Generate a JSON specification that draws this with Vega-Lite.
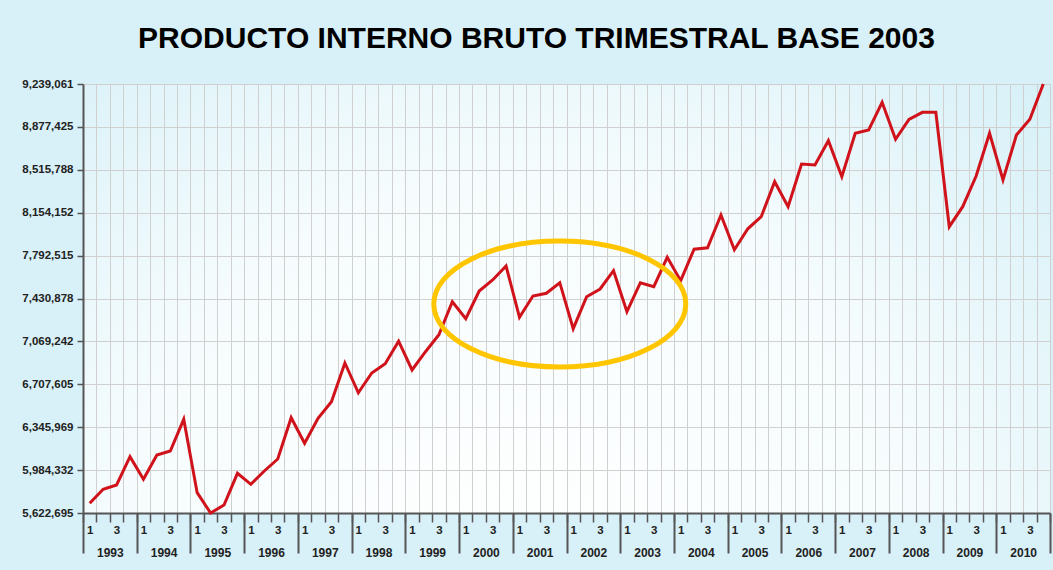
{
  "$schema": "https://vega.github.io/schema/vega-lite/v6.json",
  "width": 967,
  "height": 429,
  "autosize": {"type": "none"},
  "padding": {"left": 83, "top": 84, "right": 3, "bottom": 57},
  "background": "#d8f0f7",
  "view": {
    "stroke": null,
    "fill": {
      "gradient": "radial",
      "x1": 0.45, "y1": 0.8, "r1": 0,
      "x2": 0.45, "y2": 0.8, "r2": 0.85,
      "stops": [
        {"offset": 0, "color": "#ffffff"},
        {"offset": 0.5, "color": "#f6fcfd"},
        {"offset": 1, "color": "#cdedf6"}
      ]
    }
  },
  "title": {
    "text": "PRODUCTO INTERNO BRUTO TRIMESTRAL BASE 2003",
    "font": "Liberation Sans",
    "fontSize": 30,
    "fontWeight": "bold",
    "color": "#000000",
    "anchor": "middle",
    "baseline": "alphabetic",
    "dx": -30,
    "offset": 0
  },
  "config": {
    "axis": {
      "title": null,
      "labelFont": "Liberation Sans",
      "labelFontWeight": "bold",
      "labelColor": "#222222",
      "domainColor": "#555555",
      "domainWidth": 2,
      "tickColor": "#555555",
      "gridColor": "#d0d0d0",
      "gridWidth": 1
    }
  },
  "resolve": {"axis": {"x": "independent"}},
  "layer": [
    {
      "data": {
        "values": [
          {"q": "1993-1", "t": 0, "v": 5704487},
          {"q": "1993-2", "t": 1, "v": 5822503},
          {"q": "1993-3", "t": 2, "v": 5858751},
          {"q": "1993-4", "t": 3, "v": 6097312},
          {"q": "1994-1", "t": 4, "v": 5906800},
          {"q": "1994-2", "t": 5, "v": 6111642},
          {"q": "1994-3", "t": 6, "v": 6145361},
          {"q": "1994-4", "t": 7, "v": 6412582},
          {"q": "1995-1", "t": 8, "v": 5793842},
          {"q": "1995-2", "t": 9, "v": 5622695},
          {"q": "1995-3", "t": 10, "v": 5690157},
          {"q": "1995-4", "t": 11, "v": 5957379},
          {"q": "1996-1", "t": 12, "v": 5864652},
          {"q": "1996-2", "t": 13, "v": 5976767},
          {"q": "1996-3", "t": 14, "v": 6077923},
          {"q": "1996-4", "t": 15, "v": 6426070},
          {"q": "1997-1", "t": 16, "v": 6210270},
          {"q": "1997-2", "t": 17, "v": 6421012},
          {"q": "1997-3", "t": 18, "v": 6560945},
          {"q": "1997-4", "t": 19, "v": 6887175},
          {"q": "1998-1", "t": 20, "v": 6635970},
          {"q": "1998-2", "t": 21, "v": 6802878},
          {"q": "1998-3", "t": 22, "v": 6881274},
          {"q": "1998-4", "t": 23, "v": 7070942},
          {"q": "1999-1", "t": 24, "v": 6828167},
          {"q": "1999-2", "t": 25, "v": 6982430},
          {"q": "1999-3", "t": 26, "v": 7125735},
          {"q": "1999-4", "t": 27, "v": 7403915},
          {"q": "2000-1", "t": 28, "v": 7260610},
          {"q": "2000-2", "t": 29, "v": 7494113},
          {"q": "2000-3", "t": 30, "v": 7586840},
          {"q": "2000-4", "t": 31, "v": 7704856},
          {"q": "2001-1", "t": 32, "v": 7272412},
          {"q": "2001-2", "t": 33, "v": 7451965},
          {"q": "2001-3", "t": 34, "v": 7474725},
          {"q": "2001-4", "t": 35, "v": 7564080},
          {"q": "2002-1", "t": 36, "v": 7176314},
          {"q": "2002-2", "t": 37, "v": 7446064},
          {"q": "2002-3", "t": 38, "v": 7510972},
          {"q": "2002-4", "t": 39, "v": 7665236},
          {"q": "2003-1", "t": 40, "v": 7319618},
          {"q": "2003-2", "t": 41, "v": 7564080},
          {"q": "2003-3", "t": 42, "v": 7530361},
          {"q": "2003-4", "t": 43, "v": 7778194},
          {"q": "2004-1", "t": 44, "v": 7580939},
          {"q": "2004-2", "t": 45, "v": 7846475},
          {"q": "2004-3", "t": 46, "v": 7858276},
          {"q": "2004-4", "t": 47, "v": 8134770},
          {"q": "2005-1", "t": 48, "v": 7842260},
          {"q": "2005-2", "t": 49, "v": 8018441},
          {"q": "2005-3", "t": 50, "v": 8120440},
          {"q": "2005-4", "t": 51, "v": 8415479},
          {"q": "2006-1", "t": 52, "v": 8204737},
          {"q": "2006-2", "t": 53, "v": 8564685},
          {"q": "2006-3", "t": 54, "v": 8556255},
          {"q": "2006-4", "t": 55, "v": 8761097},
          {"q": "2007-1", "t": 56, "v": 8457628},
          {"q": "2007-2", "t": 57, "v": 8823477},
          {"q": "2007-3", "t": 58, "v": 8851295},
          {"q": "2007-4", "t": 59, "v": 9084798},
          {"q": "2008-1", "t": 60, "v": 8772899},
          {"q": "2008-2", "t": 61, "v": 8941493},
          {"q": "2008-3", "t": 62, "v": 9000500},
          {"q": "2008-4", "t": 63, "v": 9000500},
          {"q": "2009-1", "t": 64, "v": 8036143},
          {"q": "2009-2", "t": 65, "v": 8204737},
          {"q": "2009-3", "t": 66, "v": 8463529},
          {"q": "2009-4", "t": 67, "v": 8823477},
          {"q": "2010-1", "t": 68, "v": 8429810},
          {"q": "2010-2", "t": 69, "v": 8809146},
          {"q": "2010-3", "t": 70, "v": 8941493},
          {"q": "2010-4", "t": 71, "v": 9239061}
        ]
      },
      "mark": {"type": "line", "color": "#D0121B", "strokeWidth": 3, "clip": false},
      "encoding": {
        "x": {
          "field": "t",
          "type": "quantitative",
          "scale": {"domain": [-0.5, 71.5], "nice": false, "zero": false},
          "axis": {
            "orient": "bottom",
            "values": [-0.5,0.5,1.5,2.5,3.5,4.5,5.5,6.5,7.5,8.5,9.5,10.5,11.5,12.5,13.5,14.5,15.5,16.5,17.5,18.5,19.5,20.5,21.5,22.5,23.5,24.5,25.5,26.5,27.5,28.5,29.5,30.5,31.5,32.5,33.5,34.5,35.5,36.5,37.5,38.5,39.5,40.5,41.5,42.5,43.5,44.5,45.5,46.5,47.5,48.5,49.5,50.5,51.5,52.5,53.5,54.5,55.5,56.5,57.5,58.5,59.5,60.5,61.5,62.5,63.5,64.5,65.5,66.5,67.5,68.5,69.5,70.5,71.5],
            "labelExpr": "((datum.value + 0.5) % 4 == 0 && datum.value < 71) ? '1' : (((datum.value + 0.5) % 4 == 2) ? '3' : '')",
            "labelOffset": 6.7,
            "labelAlign": "center",
            "labelBaseline": "top",
            "labelFontSize": 11.5,
            "labelPadding": 2,
            "labelOverlap": false,
            "labelBound": false,
            "labelFlush": false,
            "tickSize": 9,
            "tickWidth": 1.5,
            "grid": true
          }
        },
        "y": {
          "field": "v",
          "type": "quantitative",
          "scale": {"domain": [5622695, 9239061], "nice": false, "zero": false},
          "axis": {
            "orient": "left",
            "values": [5622695, 5984332, 6345969, 6707605, 7069242, 7430878, 7792515, 8154152, 8515788, 8877425, 9239061],
            "format": ",d",
            "labelFontSize": 11.5,
            "labelPadding": 4,
            "tickSize": 6,
            "tickWidth": 1.5,
            "grid": true,
            "labelOverlap": false,
            "labelBound": false,
            "labelFlush": false
          }
        }
      }
    },
    {
      "data": {"values": [{"label": "ellipse", "t": 35, "v": 7384527}]},
      "mark": {
        "type": "point",
        "shape": "M -1 0 A 1 0.5 0 1 0 1 0 A 1 0.5 0 1 0 -1 0 Z",
        "size": 63504,
        "filled": false,
        "stroke": "#FFC600",
        "strokeWidth": 5,
        "opacity": 1,
        "clip": false
      },
      "encoding": {
        "x": {
          "field": "t",
          "type": "quantitative",
          "axis": {
            "orient": "bottom",
            "values": [-0.5,3.5,7.5,11.5,15.5,19.5,23.5,27.5,31.5,35.5,39.5,43.5,47.5,51.5,55.5,59.5,63.5,67.5,71.5],
            "labelExpr": "datum.value < 71 ? '' + (1993 + round((datum.value + 0.5) / 4)) : ''",
            "labelOffset": 26.85,
            "labelAlign": "center",
            "labelBaseline": "top",
            "labelFontSize": 12,
            "labelPadding": -6,
            "labelOverlap": false,
            "labelBound": false,
            "labelFlush": false,
            "tickSize": 40,
            "tickWidth": 2,
            "domain": false,
            "grid": false
          }
        },
        "y": {
          "field": "v",
          "type": "quantitative",
          "axis": {
            "orient": "left",
            "values": [5622695, 5984332, 6345969, 6707605, 7069242, 7430878, 7792515, 8154152, 8515788, 8877425, 9239061],
            "format": ",d",
            "labelFontSize": 11.5,
            "labelPadding": 4,
            "tickSize": 6,
            "tickWidth": 1.5,
            "grid": true,
            "labelOverlap": false,
            "labelBound": false,
            "labelFlush": false
          }
        }
      }
    }
  ]
}
